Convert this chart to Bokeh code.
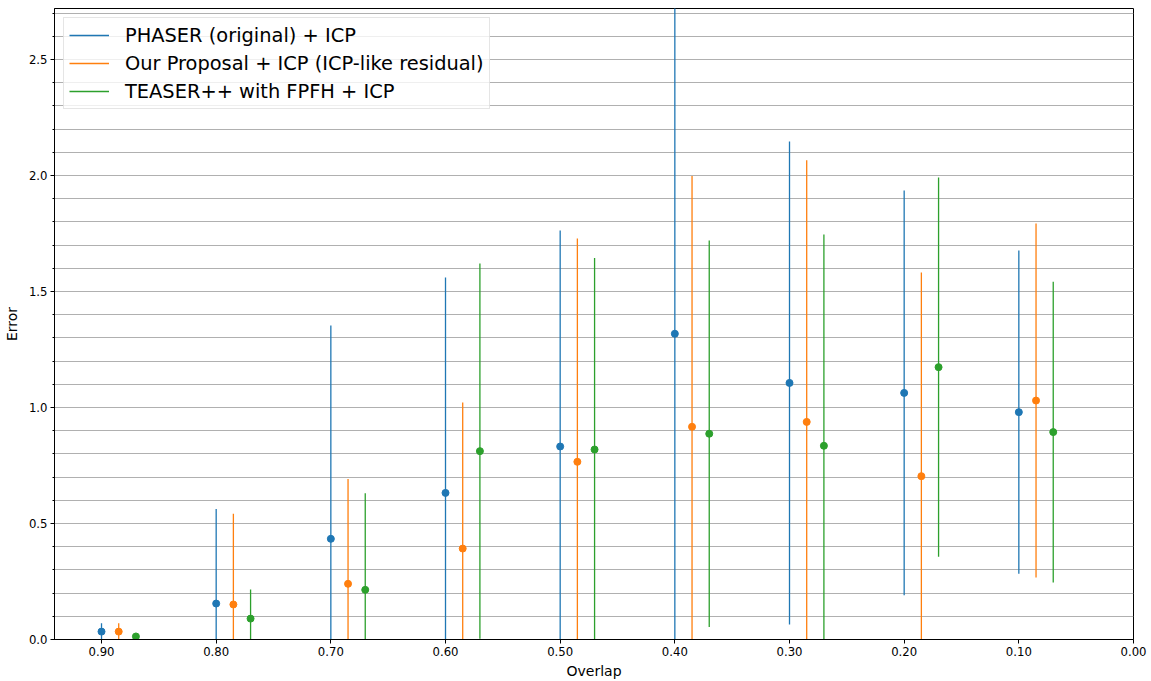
from bokeh.plotting import figure
from bokeh.models import Range1d, FixedTicker, NumeralTickFormatter, ColumnDataSource, Legend, LegendItem
from bokeh.embed import file_html
from bokeh.resources import INLINE

overlap = [0.9, 0.8, 0.7, 0.6, 0.5, 0.4, 0.3, 0.2, 0.1]
series_names = ["PHASER (original) + ICP",
                "Our Proposal + ICP (ICP-like residual)",
                "TEASER++ with FPFH + ICP"]
phaser_mean = [0.034, 0.155, 0.434, 0.632, 0.832, 1.318, 1.106, 1.063, 0.980]
phaser_std = [0.036, 0.408, 0.919, 0.928, 0.931, 1.500, 1.041, 0.872, 0.697]
ours_mean = [0.034, 0.151, 0.240, 0.392, 0.766, 0.917, 0.938, 0.704, 1.030]
ours_std = [0.036, 0.391, 0.452, 0.630, 0.963, 1.081, 1.128, 0.878, 0.763]
teaser_mean = [0.013, 0.090, 0.214, 0.812, 0.819, 0.887, 0.835, 1.174, 0.894]
teaser_std = [0.008, 0.126, 0.416, 0.809, 0.825, 0.833, 0.911, 0.817, 0.648]
x_offsets = [0.0, -0.015, -0.03]
colors = ["#1f77b4", "#ff7f0e", "#2ca02c"]
x_ticks = [0.9, 0.8, 0.7, 0.6, 0.5, 0.4, 0.3, 0.2, 0.1, 0.0]
y_ticks = [0.0, 0.5, 1.0, 1.5, 2.0, 2.5]
y_minor = [round(0.1 * i, 1) for i in range(0, 28)]

FONT = "DejaVu Sans"

p = figure(frame_width=1079, frame_height=631,
           min_border_left=53, min_border_right=19, min_border_top=8, min_border_bottom=42,
           x_range=Range1d(0.941, 0.0), y_range=Range1d(0.0, 2.72),
           output_backend="svg", toolbar_location=None,
           background_fill_color="white", border_fill_color="white")

p.outline_line_color = "black"
p.outline_line_width = 1
p.outline_line_alpha = 1

p.xaxis.ticker = FixedTicker(ticks=x_ticks)
p.xaxis.formatter = NumeralTickFormatter(format="0.00")
p.yaxis.ticker = FixedTicker(ticks=y_ticks, minor_ticks=y_minor)
p.yaxis.formatter = NumeralTickFormatter(format="0.0")

for ax in (p.xaxis[0], p.yaxis[0]):
    ax.axis_line_color = "black"
    ax.axis_line_width = 1
    ax.major_tick_line_color = "black"
    ax.major_tick_out = 4
    ax.major_tick_in = 0
    ax.minor_tick_out = 2
    ax.minor_tick_in = 0
    ax.major_label_text_font = FONT
    ax.major_label_text_font_size = "11.7px"
    ax.major_label_text_color = "black"
    ax.axis_label_text_font = FONT
    ax.axis_label_text_font_size = "14px"
    ax.axis_label_text_font_style = "normal"
    ax.axis_label_text_color = "black"
    ax.major_label_standoff = 3
    ax.axis_label_standoff = 4

p.xaxis.minor_tick_line_color = None
p.yaxis.minor_tick_line_color = "black"
p.yaxis.axis_label_standoff = 6
p.xaxis.axis_label = "Overlap"
p.yaxis.axis_label = "Error"

p.xgrid.grid_line_color = None
p.ygrid.ticker = FixedTicker(ticks=y_minor)
p.ygrid.grid_line_color = "#b0b0b0"
p.ygrid.grid_line_width = 1
p.ygrid.grid_line_alpha = 1

means = [phaser_mean, ours_mean, teaser_mean]
stds = [phaser_std, ours_std, teaser_std]
items = []
for name, m, s, off, c in zip(series_names, means, stds, x_offsets, colors):
    xs = [x + off for x in overlap]
    src = ColumnDataSource(dict(x=xs, m=m, lo=[a - b for a, b in zip(m, s)],
                                hi=[a + b for a, b in zip(m, s)]))
    seg = p.segment(x0="x", y0="lo", x1="x", y1="hi", source=src,
                    line_color=c, line_width=1.3)
    p.scatter(x="x", y="m", source=src, size=7, fill_color=c, line_color=c)
    items.append(LegendItem(label=name, renderers=[seg]))

legend = Legend(items=items, location="top_left")
legend.label_text_font = FONT
legend.label_text_font_size = "19.4px"
legend.label_text_color = "black"
legend.glyph_width = 40
legend.glyph_height = 24
legend.label_height = 24
legend.label_standoff = 16
legend.spacing = 4
legend.padding = 5
legend.margin = 9
legend.border_line_color = "#cccccc"
legend.border_line_width = 1
legend.background_fill_color = "white"
legend.background_fill_alpha = 0.8
p.add_layout(legend)

open("out.html", "w").write(file_html(p, INLINE))
